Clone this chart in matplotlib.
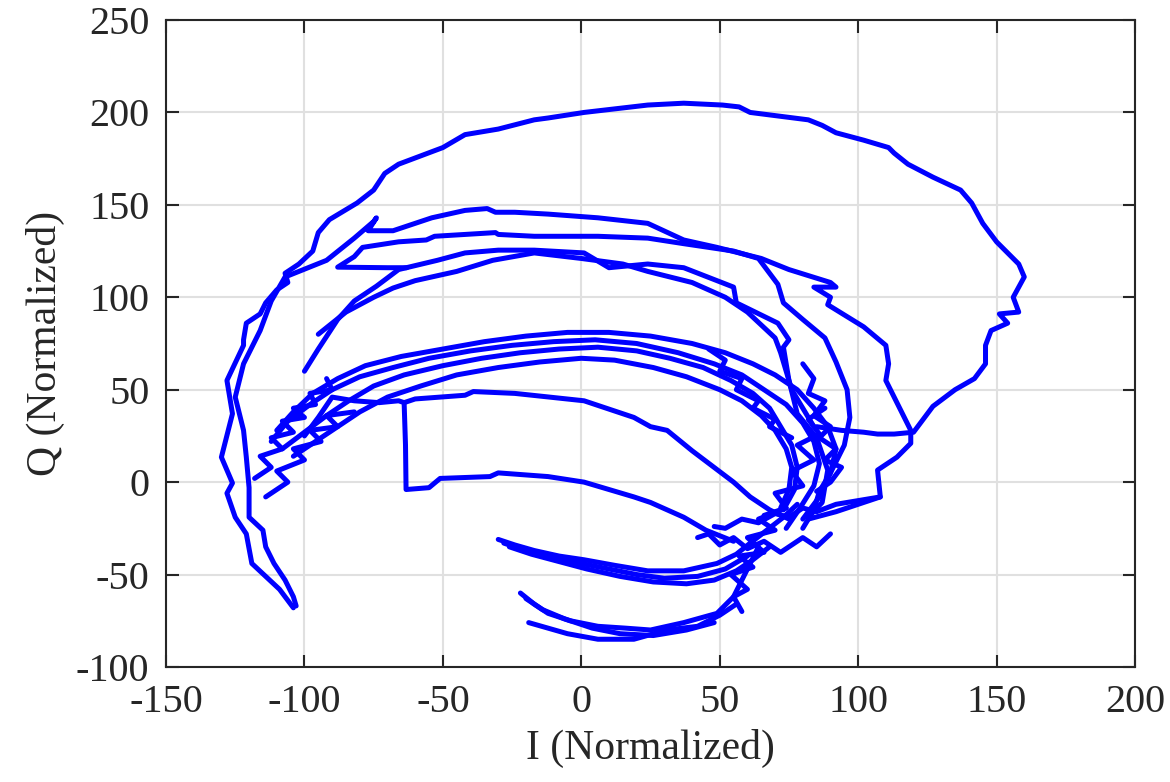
import matplotlib
matplotlib.use('Agg')
import matplotlib.pyplot as plt

plt.rcParams['font.family'] = ['Liberation Serif', 'DejaVu Serif']
plt.rcParams['axes.unicode_minus'] = False

# outer loop (right side up, over the top, down the left)
outer_i = [85, 94, 102, 107, 113, 120, 127, 135, 142, 146, 146, 148, 154, 151, 158, 156, 160, 158,
           150, 145, 141, 137, 127, 118, 113, 111, 102, 92, 87, 82, 61, 57, 51, 37, 24, 1, -12, -17,
           -30, -42, -50, -66, -71, -75, -81, -91, -95, -97, -102, -107, -106, -110, -114, -116,
           -121, -122, -122, -128, -126, -130, -126, -128, -125, -121, -119, -114, -109, -104]
outer_q = [30, 28, 27, 26, 26, 27, 41, 50, 56, 64, 74, 82, 86, 91, 92, 100, 111, 118,
           130, 140, 151, 158, 165, 172, 178, 181, 185, 189, 193, 196, 200, 203, 204, 205, 204, 200, 197, 196,
           191, 188, 181, 172, 167, 158, 151, 142, 135, 125, 118, 113, 108, 104, 97, 91,
           86, 77, 74, 55, 37, 13.5, -0.5, -6, -19, -28, -44, -51, -58, -68]

# second loop (peak ~148)
a_i = [-103, -104, -107, -111, -114, -115, -120, -120, -121, -122, -125, -122, -116, -112, -107, -92,
       -82, -75, -74, -77, -68, -54, -42, -34, -31, -24, -12, 6, 24, 37, 49, 65, 75, 90, 92, 84, 90,
       89, 102, 110, 111, 110, 114, 119, 119, 114, 107, 108, 100, 92, 82]
a_q = [-67, -62, -53, -44, -35, -26, -19, -3, 13.5, 28, 46, 64, 82, 98, 111, 120,
       132, 141, 143, 136, 136, 143, 147, 148, 146, 146, 145, 143, 140, 131, 127, 121, 115, 108, 105.5, 105.5, 100,
       96, 84, 74, 64, 55, 43, 28, 21, 13.5, 6.5, -8, -12, -16, -20]

# loop with the short flat stub (~135)
b_i = [-63, -70, -88, -82, -79, -66, -56, -53, -42, -31, -30, -17, 6, 24, 37, 55, 64, 71, 73, 80,
       88, 92, 96, 97, 95, 90, 86, 84, 80]
b_q = [116, 116, 116.3, 122, 127, 130, 131, 133, 134, 135, 134, 133, 133, 132, 129, 125, 121, 107, 97, 88,
       78, 65, 50, 35, 20, 5, -5, -15, -25]

# loop ~125
c_i = [-100, -95, -88, -82, -74, -66, -52, -42, -30, -17, 1, 10, 24, 37, 55, 56, 71, 75, 73, 75, 78,
       85, 89, 87, 82]
c_q = [60, 72, 88, 98, 106, 115, 120, 124, 125.5, 125.5, 124, 116, 118, 116, 105.5, 97, 86, 77, 73, 55, 37,
       24, 6.5, -11, -19]

c2_i = [-95, -85, -75, -68, -60, -45, -32, -17, 0, 15, 24, 40, 52, 60, 65, 70, 72, 74, 76, 80, 84]
c2_q = [80, 92, 100, 105, 109, 114, 120, 124, 121, 118, 114, 108, 100, 92, 85, 78, 70, 60, 50, 40, 30]

# band around Q ~ 70-80
d1_i = [-110, -104, -97, -88, -78, -65, -50, -35, -20, -5, 10, 25, 40, 52, 62, 70, 78, 84, 89, 92, 90, 86, 80]
d1_q = [28, 38, 48, 56, 63, 68, 72, 76, 79, 81, 81, 79, 75, 70, 64, 58, 50, 40, 30, 18, 5, -8, -20]
d2_i = [-112, -106, -98, -90, -80, -68, -55, -40, -25, -10, 5, 20, 35, 48, 58, 66, 74, 80, 84, 86, 84, 79, 74]
d2_q = [22, 33, 42, 50, 57, 62, 67, 71, 74, 76, 77, 75, 70, 64, 58, 50, 42, 32, 22, 10, -2, -14, -25]
d3_i = [-108, -100, -92, -84, -75, -64, -50, -36, -22, -8, 6, 20, 32, 44, 54, 62, 68, 72, 76, 78, 77, 73]
d3_q = [18, 27, 36, 44, 52, 58, 63, 67, 70, 72, 73, 71, 67, 62, 55, 48, 40, 30, 20, 8, -4, -15]
d4_i = [-104, -96, -88, -80, -70, -58, -45, -30, -15, 0, 12, 26, 38, 50, 58, 65, 70, 74, 76, 75, 72]
d4_q = [14, 22, 30, 38, 46, 52, 58, 62, 65, 67, 66, 62, 57, 50, 44, 36, 28, 18, 8, -4, -14]

# inner loop with vertical step
e_low_i = [-100, -95, -90, -82, -73, -66, -64, -63.5, -63.3, -55, -51, -33, -30, -12, 1, 19, 25, 37, 45, 55]
e_low_q = [25, 35, 46, 44, 43, 44, 43, 20, -4, -3, 2, 3, 5, 3, 0, -8, -11, -19, -26, -32]
e_high_i = [-64, -60, -42, -39, -24, 1, 19, 25, 31, 40, 55, 61, 68, 75]
e_high_q = [43, 45, 47, 49, 48, 44, 35, 30, 28, 17, 0, -8, -15, -20]

# lower spiral arms
s1_i = [-30, -24, -17, -8, 1, 12, 24, 37, 49, 56, 61, 67, 73, 78]
s1_q = [-31, -34, -37, -40, -42, -45, -48, -48, -44, -39, -33, -26, -19, -12]
s1b_i = [-26, -18, -8, 2, 14, 26, 38, 48, 56, 62, 68]
s1b_q = [-35, -39, -43, -47, -51, -54, -55, -53, -48, -42, -35]
s1c_i = [-28, -20, -10, 0, 10, 20, 30, 42, 52, 60]
s1c_q = [-33, -37, -41, -44, -47, -50, -52, -51, -47, -40]
s2_i = [-22, -17, -12, -4, 6, 16, 25, 37, 49, 55, 61, 64]
s2_q = [-60, -66, -71, -75, -78, -79, -80, -76, -71, -62, -44, -35]
s2b_i = [-19, -12, -5, 6, 19, 31, 42, 50, 56]
s2b_q = [-76, -79, -82, -85, -85, -80, -78, -72, -66]
s2c_i = [-20, -14, -6, 4, 14, 26, 38, 48]
s2c_q = [-63, -69, -74, -79, -82, -83, -80, -76]

# wiggles on the right side
w1_i = [108, 100, 92, 85, 80, 75, 70, 64, 58, 52, 48]
w1_q = [-8, -10, -12, -16, -14, -19, -17, -22, -20, -25, -24]
w2_i = [90, 85, 80, 72, 66, 60, 55, 50, 46, 42]
w2_q = [-28, -35, -30, -38, -32, -36, -30, -34, -28, -30]
w3_i = [58, 55, 60, 54, 62, 57, 66, 60, 70, 64, 74]
w3_q = [-70, -62, -58, -50, -46, -40, -38, -30, -26, -20, -14]
w4_i = [80, 84, 82, 88, 84, 90, 86, 92, 88, 94, 90, 85]
w4_q = [64, 56, 48, 44, 36, 30, 24, 18, 12, 8, 0, -5]
w5_i = [46, 52, 50, 58, 56, 64, 62, 70, 68, 76]
w5_q = [72, 66, 60, 56, 50, 44, 40, 34, 30, 24]
w6_i = [88, 82, 86, 78, 84, 76, 80, 70, 74, 66]
w6_q = [40, 34, 26, 20, 12, 6, -2, -6, -14, -18]

# wiggles on the left side
l1_i = [-118, -112, -116, -108, -112, -104, -108, -100, -104, -96, -98, -90, -92]
l1_q = [2, 8, 14, 18, 24, 27, 33, 35, 40, 42, 48, 50, 56]
l2_i = [-114, -106, -110, -100, -104, -94, -98, -88, -92, -82]
l2_q = [-8, 0, 6, 12, 18, 22, 28, 30, 36, 38]

paths = [(outer_i, outer_q), (a_i, a_q), (b_i, b_q), (c_i, c_q), (c2_i, c2_q),
         (d1_i, d1_q), (d2_i, d2_q), (d3_i, d3_q), (d4_i, d4_q),
         (e_low_i, e_low_q), (e_high_i, e_high_q),
         (s1_i, s1_q), (s1b_i, s1b_q), (s1c_i, s1c_q),
         (s2_i, s2_q), (s2b_i, s2b_q), (s2c_i, s2c_q),
         (w1_i, w1_q), (w2_i, w2_q), (w3_i, w3_q), (w4_i, w4_q), (w5_i, w5_q), (w6_i, w6_q),
         (l1_i, l1_q), (l2_i, l2_q)]

xticks = [-150, -100, -50, 0, 50, 100, 150, 200]
yticks = [-100, -50, 0, 50, 100, 150, 200, 250]

fig = plt.figure(figsize=(11.7, 7.82), dpi=100)
ax = fig.add_axes([0.1419, 0.1471, 0.8282, 0.8273])

for xi, yq in paths:
    ax.plot(xi, yq, color='#0000ff', lw=3.6, solid_joinstyle='round', solid_capstyle='round')

ax.set_xlim(-150, 200)
ax.set_ylim(-100, 250)
ax.set_xticks(xticks)
ax.set_yticks(yticks)
ax.grid(True, color='#e0e0e0', lw=1.5)
ax.set_axisbelow(True)
for s in ax.spines.values():
    s.set_color('#262626')
    s.set_linewidth(1.5)
ax.tick_params(direction='in', length=9, width=1.5, top=True, right=True,
               labelsize=29, colors='#262626', pad=12)
ax.set_xlabel('I (Normalized)', fontsize=30, color='#262626', labelpad=6)
ax.set_ylabel('Q (Normalized)', fontsize=30, color='#262626', labelpad=8)

fig.savefig('out.png', dpi=100)
